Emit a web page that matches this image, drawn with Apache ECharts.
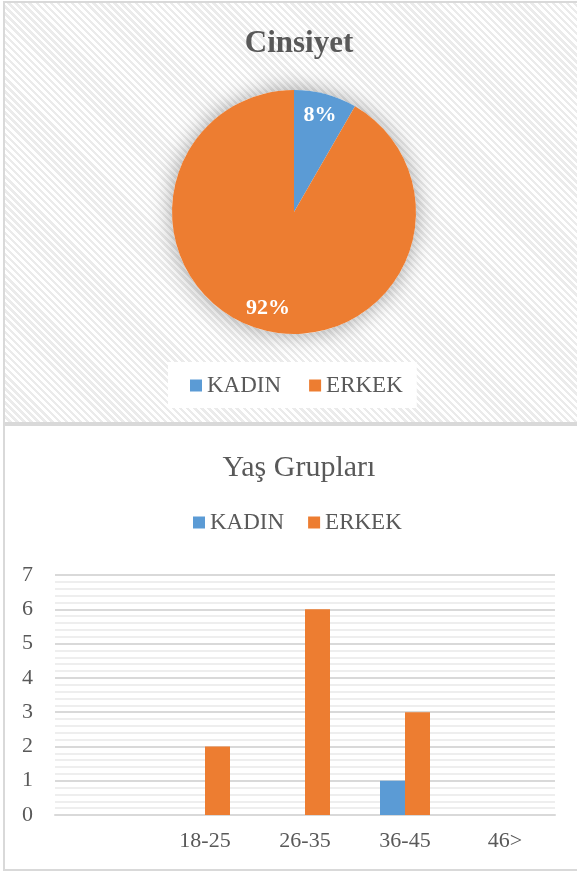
<!DOCTYPE html>
<html>
<head>
<meta charset="utf-8">
<script src="https://cdn.jsdelivr.net/npm/echarts@6/dist/echarts.min.js"></script>
<style>
  html, body { margin: 0; padding: 0; background: #fff; overflow: hidden; }
  #wrap { position: relative; width: 577px; height: 872px; overflow: hidden; }
  .panel { position: absolute; left: 3px; width: 600px; border: 2px solid #d9d9d9; box-sizing: border-box; }
  #top { top: 1px; height: 423px; background: repeating-linear-gradient(45deg, #fff 0px, #fff 2.5px, #ebebeb 2.5px, #ebebeb 5px); }
  #bottom { top: 424px; height: 447px; background: #fff; }
  #chart { position: absolute; left: 0; top: 0; width: 577px; height: 872px; }
</style>
</head>
<body>
<div id="wrap">
  <div class="panel" id="top"></div>
  <div class="panel" id="bottom"></div>
  <div id="chart"></div>
</div>
<script>
// data
const genders = ['KADIN', 'ERKEK'];
const genderCounts = [1, 11];
const ageGroups = ['', '18-25', '26-35', '36-45', '46>'];
const kadinByAge = [0, 0, 0, 1, 0];
const erkekByAge = [0, 2, 6, 3, 0];
const yTicks = [0, 7, 1]; // min, max, interval

const COLORS = ['#5B9BD5', '#ED7D31'];
const TXT = '#595959';
const FONT = '"Liberation Serif", "Times New Roman", serif';

const chart = echarts.init(document.getElementById('chart'), null, { renderer: 'canvas' });

const pieData = genders.map((name, i) => ({ name, value: genderCounts[i] }));
const total = genderCounts.reduce((a, b) => a + b, 0);

const legendText = () => ({ fontSize: 23, color: TXT, fontFamily: FONT, fontWeight: 'normal' });

const makeLegend = (extra) => Object.assign({
  data: genders.map(name => ({ name, textStyle: legendText() })),
  icon: 'rect',
  itemWidth: 12,
  itemHeight: 12,
  selectedMode: false,
  textStyle: legendText(),
  formatter: name => '{t|' + name + '}',
}, extra, {
  textStyle: Object.assign(legendText(), { rich: { t: legendText() } }),
});

chart.setOption({
  animation: false,
  color: COLORS,
  textStyle: { fontFamily: FONT },
  title: [
    {
      text: 'Cinsiyet', left: 294, top: 23, textAlign: 'center',
      textStyle: { fontSize: 31, fontWeight: 'bold', color: TXT, fontFamily: FONT },
    },
    {
      text: 'Yaş Grupları', left: 294, top: 448, textAlign: 'center',
      textStyle: { fontSize: 30, fontWeight: 'normal', color: TXT, fontFamily: FONT },
    },
  ],
  legend: [
    makeLegend({
      left: 168, top: 362, itemGap: 28,
      backgroundColor: '#fff', padding: [12, 14, 11, 22],
    }),
    makeLegend({ left: 193, top: 511, itemGap: 24, padding: 0 }),
  ],
  grid: { left: 55, right: 22, top: 575, bottom: 57 },
  xAxis: {
    type: 'category',
    data: ageGroups,
    axisLine: { show: true, lineStyle: { color: '#d9d9d9', width: 2 } },
    axisTick: { show: false },
    axisLabel: { interval: 0, fontSize: 22, color: TXT, margin: 15, fontFamily: FONT },
  },
  yAxis: {
    type: 'value',
    min: yTicks[0], max: yTicks[1], interval: yTicks[2],
    axisLine: { show: false },
    axisTick: { show: false },
    axisLabel: { fontSize: 22, color: TXT, margin: 22, fontFamily: FONT },
    splitLine: { lineStyle: { color: '#d9d9d9', width: 2 } },
    minorTick: { show: false, splitNumber: 5 },
    minorSplitLine: { show: true, lineStyle: { color: '#e9e9e9', width: 1.5 } },
  },
  series: [
    {
      // soft shadow under the pie
      type: 'pie', center: [294, 212], radius: 122, silent: true,
      data: [{ name: 'shadow', value: total }],
      itemStyle: { color: '#fff', shadowBlur: 22, shadowColor: 'rgba(0,0,0,0.35)' },
      label: { show: false }, labelLine: { show: false },
      emphasis: { disabled: true },
    },
    {
      type: 'pie', name: 'Cinsiyet', center: [294, 212], radius: 122,
      startAngle: 90, clockwise: true, silent: true,
      data: pieData,
      label: { show: false }, labelLine: { show: false },
      emphasis: { disabled: true },
    },
    {
      // labels only, placed on an outer ring
      type: 'pie', center: [294, 212], radius: [72, 122],
      startAngle: 90, clockwise: true, silent: true,
      percentPrecision: 0,
      data: pieData,
      itemStyle: { color: 'rgba(0,0,0,0)' },
      label: {
        show: true, position: 'inside', formatter: '{d}%',
        color: '#fff', fontSize: 22, fontWeight: 'bold', fontFamily: FONT,
      },
      labelLine: { show: false },
      emphasis: { disabled: true },
    },
    {
      type: 'bar', name: 'KADIN', data: kadinByAge,
      barWidth: '25%', barGap: '0%',
      itemStyle: { color: COLORS[0] },
    },
    {
      type: 'bar', name: 'ERKEK', data: erkekByAge,
      barWidth: '25%', barGap: '0%',
      itemStyle: { color: COLORS[1] },
    },
  ],
});
</script>
</body>
</html>
